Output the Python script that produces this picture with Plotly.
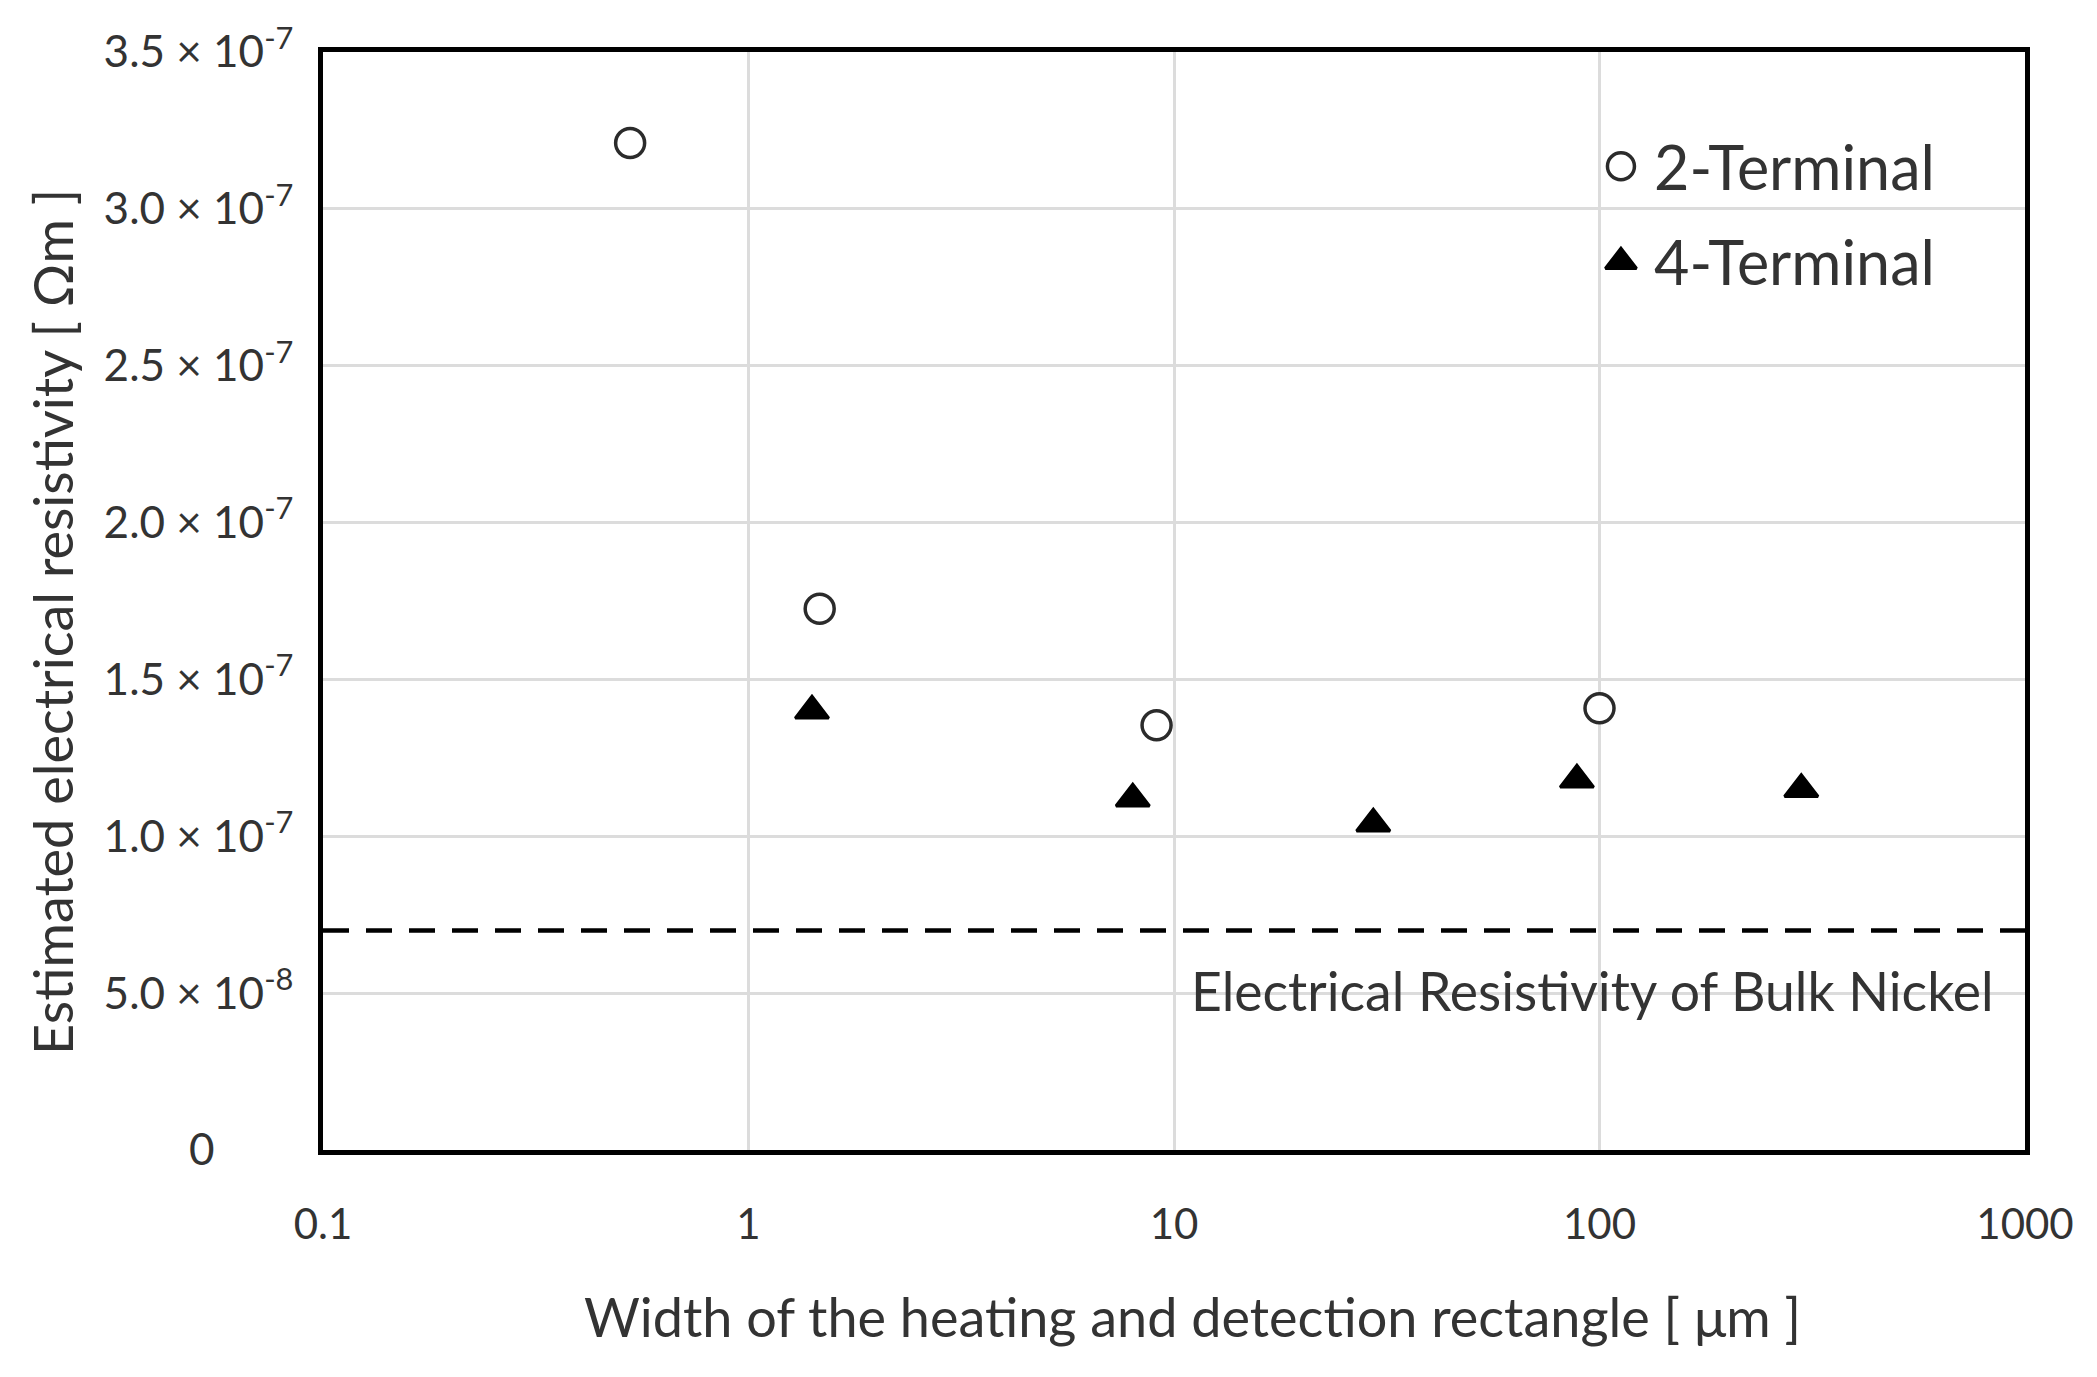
import plotly.graph_objects as go

# ---- data ----
two_term_x = [0.527, 1.47, 9.1, 100.0]
two_term_y = [3.21e-7, 1.725e-7, 1.354e-7, 1.408e-7]

four_term_x = [1.41, 8.0, 29.4, 88.5, 298.0]
four_term_y = [1.40e-7, 1.12e-7, 1.04e-7, 1.18e-7, 1.15e-7]

bulk_nickel = 7.0e-8

y_tickvals = [0, 5e-8, 1e-7, 1.5e-7, 2e-7, 2.5e-7, 3e-7, 3.5e-7]
y_ticktext = ["0" + "\u00a0" * 7,
              "5.0 × 10<sup>-8</sup>", "1.0 × 10<sup>-7</sup>", "1.5 × 10<sup>-7</sup>",
              "2.0 × 10<sup>-7</sup>", "2.5 × 10<sup>-7</sup>", "3.0 × 10<sup>-7</sup>",
              "3.5 × 10<sup>-7</sup>"]
x_tickvals = [0.1, 1, 10, 100, 1000]
x_ticktext = ["0.1", "1", "10", "100", "1000"]

legend_names = ["2-Terminal", "4-Terminal"]

FONT = "Lato"
TXT = "#333333"

fig = go.Figure()

fig.add_trace(go.Scatter(
    x=two_term_x, y=two_term_y, mode="markers", name=legend_names[0],
    marker=dict(symbol="circle", size=29, color="white",
                line=dict(color="#2b2b2b", width=3.5)),
    showlegend=False))

fig.add_trace(go.Scatter(
    x=four_term_x, y=four_term_y, mode="markers", name=legend_names[1],
    marker=dict(symbol="triangle-up", size=29, color="black",
                line=dict(color="black", width=3)),
    showlegend=False))

# legend symbols drawn on an overlay unit axis
fig.add_trace(go.Scatter(
    x=[0.7626], y=[0.896], xaxis="x2", yaxis="y2", mode="markers",
    marker=dict(symbol="circle", size=27, color="white",
                line=dict(color="#2b2b2b", width=3.5)),
    showlegend=False, hoverinfo="skip"))
fig.add_trace(go.Scatter(
    x=[0.7626], y=[0.809], xaxis="x2", yaxis="y2", mode="markers",
    marker=dict(symbol="triangle-up", size=27, color="black",
                line=dict(color="black", width=3)),
    showlegend=False, hoverinfo="skip"))

# bulk nickel dashed line
fig.add_shape(type="line", xref="paper", x0=0, x1=1, yref="y",
              y0=bulk_nickel, y1=bulk_nickel,
              line=dict(color="black", width=4.5, dash="26px,17px"))

annotations = [
    dict(text="Electrical Resistivity of Bulk Nickel", xref="paper", yref="y",
         x=0.983, y=bulk_nickel, yshift=-60, xanchor="right", yanchor="middle",
         showarrow=False, font=dict(family=FONT, size=53.5, color=TXT)),
    dict(text=legend_names[0], xref="paper", yref="paper", x=0.781, y=0.896,
         xanchor="left", yanchor="middle", showarrow=False,
         font=dict(family=FONT, size=61, color=TXT)),
    dict(text=legend_names[1], xref="paper", yref="paper", x=0.781, y=0.809,
         xanchor="left", yanchor="middle", showarrow=False,
         font=dict(family=FONT, size=61, color=TXT)),
    dict(text="Estimated electrical resistivity [ Ωm ]", xref="paper", yref="paper",
         x=-0.1586, y=0.481, textangle=-90, xanchor="center", yanchor="middle",
         showarrow=False, font=dict(family=FONT, size=54, color=TXT)),
    dict(text="Width of the heating and detection rectangle [ μm ]", xref="paper",
         yref="paper", x=0.5106, y=-0.152, xanchor="center", yanchor="middle",
         showarrow=False, font=dict(family=FONT, size=54, color=TXT)),
]

fig.update_layout(
    width=2097, height=1377,
    paper_bgcolor="white", plot_bgcolor="white",
    margin=dict(l=315, r=80, t=44, b=235),
    font=dict(family=FONT, color=TXT),
    annotations=annotations,
    showlegend=False,
    xaxis=dict(type="log", range=[-1, 3], tickvals=x_tickvals, ticktext=x_ticktext,
               showgrid=True, gridcolor="#dcdcdc", gridwidth=2.5,
               showline=True, linecolor="black", linewidth=4.5, mirror=True,
               ticks="", ticklabelstandoff=34,
               tickfont=dict(family=FONT, size=42, color=TXT), zeroline=False),
    yaxis=dict(range=[0, 3.5e-7], tickvals=y_tickvals, ticktext=y_ticktext,
               showgrid=True, gridcolor="#dcdcdc", gridwidth=2.5,
               showline=True, linecolor="black", linewidth=4.5, mirror=True,
               ticks="", ticklabelstandoff=16,
               tickfont=dict(family=FONT, size=44, color=TXT), zeroline=False),
    xaxis2=dict(overlaying="x", range=[0, 1], visible=False),
    yaxis2=dict(overlaying="y", range=[0, 1], visible=False),
)

fig.write_html("out.html")
